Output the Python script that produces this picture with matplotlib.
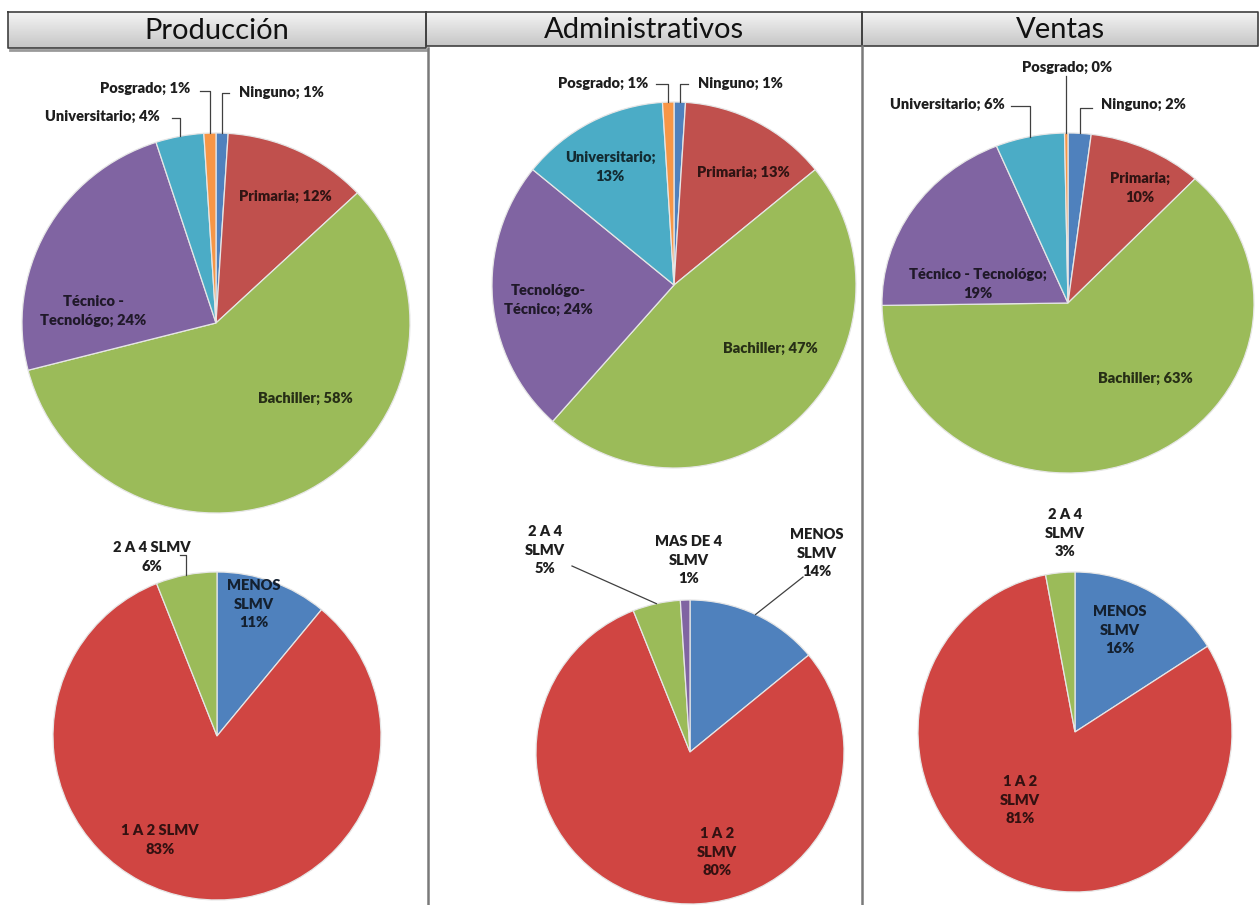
import numpy as np
import matplotlib.pyplot as plt
import matplotlib.colors as mcolors

W, H = 1260, 905

titles = ["Producción", "Administrativos", "Ventas"]

# nivel educativo (pies de arriba)
edu_colors = ["#4F81BD", "#C0504D", "#9BBB59", "#8064A2", "#4BACC6", "#F79646"]
edu_prod = ["Ninguno", "Primaria", "Bachiller", "Técnico - Tecnológo", "Universitario", "Posgrado"]
edu_prod_vals = [1, 12, 58, 24, 4, 1]
edu_adm = ["Ninguno", "Primaria", "Bachiller", "Tecnológo-Técnico", "Universitario", "Posgrado"]
edu_adm_vals = [1, 13, 47, 24, 13, 1]
edu_ven = ["Ninguno", "Primaria", "Bachiller", "Técnico - Tecnológo", "Universitario", "Posgrado"]
edu_ven_vals = [2, 10, 63, 19, 6, 0.3]

# salario (pies de abajo)
sal_colors = ["#4F81BD", "#D04542", "#9BBB59", "#8064A2"]
sal_prod = ["MENOS SLMV", "1 A 2 SLMV", "2 A 4 SLMV"]
sal_prod_vals = [11, 83, 6]
sal_adm = ["MENOS SLMV", "1 A 2 SLMV", "2 A 4 SLMV", "MAS DE 4 SLMV"]
sal_adm_vals = [14, 80, 5, 1]
sal_ven = ["MENOS SLMV", "1 A 2 SLMV", "2 A 4 SLMV"]
sal_ven_vals = [16, 81, 3]

# layout: pie box in pixels (cx, cy, rx, ry)
# labels: (x, y, sep, wrap, leader_start, elbow)
charts = [
    (edu_prod, edu_prod_vals, edu_colors, (216, 323, 194, 190), [
        (281, 92, "; ", None, (229, 93), True),
        (285, 196, "; ", None, None, False),
        (305, 398, "; ", None, None, False),
        (93, 311, "; ", " Tecnológo", None, False),
        (102, 116, "; ", None, (172, 118), True),
        (145, 88, "; ", None, (200, 91), True),
    ]),
    (edu_adm, edu_adm_vals, edu_colors, (674, 285, 182, 183), [
        (740, 83, "; ", None, (688, 84), True),
        (743, 172, "; ", None, None, False),
        (770, 348, "; ", None, None, False),
        (548, 300, "; ", "Técnico", None, False),
        (610, 167, ";\n", None, None, False),
        (603, 83, "; ", None, (656, 84), True),
    ]),
    (edu_ven, edu_ven_vals, edu_colors, (1068, 303, 186, 170), [
        (1143, 104, "; ", None, (1092, 108), True),
        (1140, 188, ";\n", None, None, False),
        (1145, 378, "; ", None, None, False),
        (978, 284, ";\n", None, None, False),
        (947, 104, "; ", None, (1011, 106), True),
        (1067, 67, "; ", None, (1066, 76), True),
    ]),
    (sal_prod, sal_prod_vals, sal_colors, (217, 736, 164, 164), [
        (254, 604, "\n", " SLMV", None, False),
        (160, 840, "\n", None, None, False),
        (152, 557, "\n", None, (180, 555), True),
    ]),
    (sal_adm, sal_adm_vals, sal_colors, (690, 752, 154, 152), [
        (817, 553, "\n", " SLMV", (803, 577), False),
        (717, 852, "\n", " SLMV", None, False),
        (545, 550, "\n", " SLMV", (572, 566), False),
        (689, 560, "\n", " SLMV", None, False),
    ]),
    (sal_ven, sal_ven_vals, sal_colors, (1075, 732, 157, 160), [
        (1120, 630, "\n", " SLMV", None, False),
        (1020, 800, "\n", " SLMV", None, False),
        (1065, 533, "\n", " SLMV", None, False),
    ]),
]

FONT = ["Lato", "DejaVu Sans"]

fig = plt.figure(figsize=(W / 100, H / 100), dpi=100)
fig.patch.set_facecolor("white")

ov = fig.add_axes([0, 0, 1, 1], zorder=10)
ov.axis("off")

# header bar
grad = np.linspace(0, 1, 64).reshape(-1, 1)
cmap = mcolors.LinearSegmentedColormap.from_list("hdr", ["#f4f4f4", "#c6c6c6"])
cells = [(8, 426, 12, 48), (426, 862, 12, 46), (862, 1258, 12, 46)]
for (x0, x1, y0, y1), t in zip(cells, titles):
    ov.imshow(grad, cmap=cmap, extent=(x0, x1, y1, y0), aspect="auto", zorder=1)
    ov.plot([x0, x1, x1, x0, x0], [y0, y0, y1, y1, y0], color="#404040", lw=1.2, zorder=2)
    ov.text((x0 + x1) / 2, (y0 + y1) / 2 + 1, t, ha="center", va="center",
            fontsize=21, family=FONT, color="#111111", zorder=3)
ov.plot([10, 426], [50, 50], color="#9a9a9a", lw=2, zorder=1)
ov.set_xlim(0, W)
ov.set_ylim(H, 0)

# column separators
for x, y0 in [(428, 48), (862, 46)]:
    ov.plot([x, x], [y0, H], color="#7a7a7a", lw=1.8, zorder=2)


def dark(c, f=0.25):
    r, g, b = mcolors.to_rgb(c)
    return (r * f, g * f, b * f)


for names, vals, colors, (cx, cy, rx, ry), labels in charts:
    ax = fig.add_axes([(cx - rx) / W, (H - cy - ry) / H, 2 * rx / W, 2 * ry / H])
    wedges, _ = ax.pie(vals, colors=colors[:len(vals)], startangle=90, counterclock=False,
                       radius=1, wedgeprops=dict(edgecolor="#e6e6e6", linewidth=0.9))
    ax.set_xlim(-1, 1)
    ax.set_ylim(-1, 1)
    ax.set_aspect("auto")
    ax.axis("off")

    for w, name, v, col, (x, y, sep, wrap, lead, elbow) in zip(wedges, names, vals, colors, labels):
        n = name.replace(wrap, "\n" + wrap.strip()) if wrap else name
        txt = f"{n}{sep}{int(round(v))}%"
        inside = ((x - cx) / rx) ** 2 + ((y - cy) / ry) ** 2 < 1
        ov.text(x, y, txt, ha="center", va="center", multialignment="center",
                fontsize=10.5, fontweight="heavy", family=FONT,
                color=dark(col) if inside else "#1e1e1e", zorder=5, linespacing=1.5)
        if lead is not None:
            th = np.deg2rad((w.theta1 + w.theta2) / 2)
            px, py = ax.transData.transform((np.cos(th), np.sin(th)))
            wx, wy = ov.transData.inverted().transform((px, py))
            if elbow:
                xs, ys = [lead[0], wx, wx], [lead[1], lead[1], wy]
            else:
                xs, ys = [lead[0], wx], [lead[1], wy]
            ov.plot(xs, ys, color="#404040", lw=0.9, zorder=4)

fig.savefig("out.png", dpi=100)
